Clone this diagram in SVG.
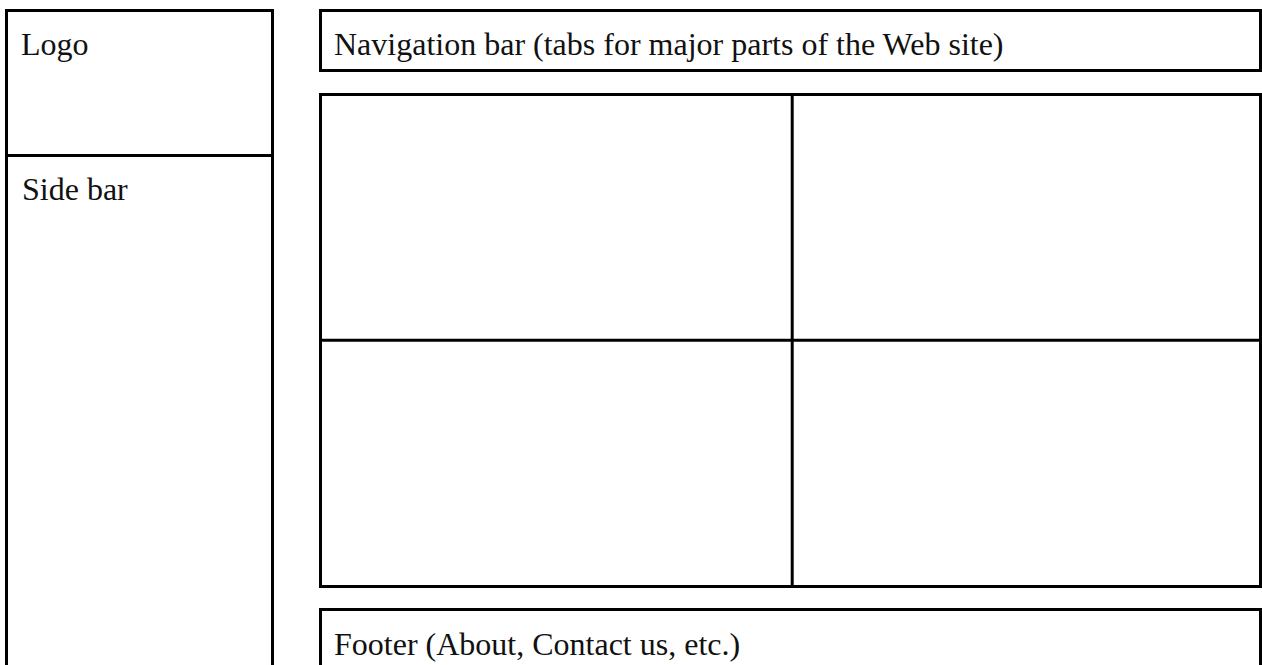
<svg xmlns="http://www.w3.org/2000/svg" width="1262" height="665" viewBox="0 0 1262 665">
  <style>
    .box { fill: none; stroke: #000; stroke-width: 3; stroke-linejoin: miter; stroke-linecap: square; }
    .label { font-family: "Liberation Serif", "Times New Roman", serif; font-size: 32px; fill: #111; }
  </style>
  <rect width="1262" height="665" fill="#fff"/>

  <!-- Left column: logo above the side bar -->
  <g id="logo">
    <path class="box" d="M6.5,666 V10.5 H272.5 V666"/>
    <text class="label" x="21" y="55">Logo</text>
  </g>
  <g id="sidebar">
    <line class="box" x1="6.5" y1="155.5" x2="272.5" y2="155.5"/>
    <text class="label" x="22" y="200">Side bar</text>
  </g>

  <!-- Top navigation -->
  <g id="navbar">
    <rect class="box" x="320.5" y="10.5" width="940" height="60"/>
    <text class="label" x="334" y="55">Navigation bar (tabs for major parts of the Web site)</text>
  </g>

  <!-- Content area split into four panels -->
  <g id="content">
    <rect class="box" x="320.5" y="94.5" width="940" height="492"/>
    <line class="box" x1="792.2" y1="94.5" x2="792.2" y2="586.5"/>
    <line class="box" x1="320.5" y1="340.2" x2="1260.5" y2="340.2"/>
  </g>

  <!-- Footer, running off the bottom edge -->
  <g id="footer">
    <path class="box" d="M320.5,666 V609.5 H1260.5 V666"/>
    <text class="label" x="334" y="655">Footer (About, Contact us, etc.)</text>
  </g>

  <g id="connectors"/>
</svg>
